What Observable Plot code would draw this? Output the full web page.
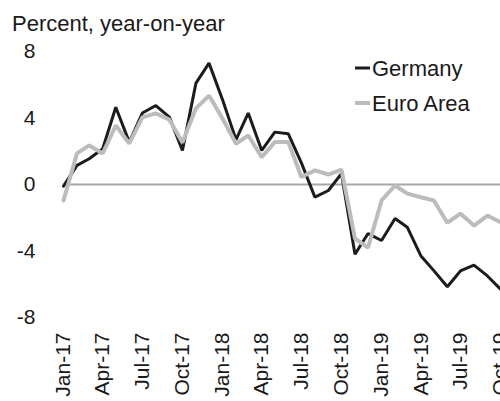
<!DOCTYPE html>
<html>
<head>
<meta charset="utf-8">
<script src="https://cdn.jsdelivr.net/npm/d3@7"></script>
<script src="https://cdn.jsdelivr.net/npm/@observablehq/plot@0.6"></script>
<style>
  html, body { margin: 0; padding: 0; background: #fff; }
  svg { display: block; }
</style>
</head>
<body>
<div id="chart"></div>
<script>
const months = [
  "Jan-17","Feb-17","Mar-17","Apr-17","May-17","Jun-17","Jul-17","Aug-17","Sep-17","Oct-17","Nov-17","Dec-17",
  "Jan-18","Feb-18","Mar-18","Apr-18","May-18","Jun-18","Jul-18","Aug-18","Sep-18","Oct-18","Nov-18","Dec-18",
  "Jan-19","Feb-19","Mar-19","Apr-19","May-19","Jun-19","Jul-19","Aug-19","Sep-19","Oct-19"
];
const germany = [
  -0.1, 1.15, 1.55, 2.15, 4.65, 2.55, 4.3, 4.75, 4.05, 2.05, 6.1, 7.3,
  5.1, 2.7, 4.3, 2.05, 3.15, 3.05, 1.3, -0.76, -0.36, 0.65, -4.2, -2.95,
  -3.37, -2.05, -2.57, -4.28, -5.18, -6.15, -5.2, -4.85, -5.5, -6.3
];
const euroArea = [
  -0.96, 1.87, 2.35, 1.87, 3.55, 2.47, 4.04, 4.28, 3.9, 2.53, 4.58, 5.35,
  3.97, 2.45, 2.95, 1.65, 2.55, 2.55, 0.45, 0.85, 0.6, 0.9, -3.25, -3.8,
  -0.96, -0.06, -0.55, -0.77, -0.96, -2.3, -1.75, -2.47, -1.87, -2.27
];
const xTickLabels = ["Jan-17","Apr-17","Jul-17","Oct-17","Jan-18","Apr-18","Jul-18","Oct-18","Jan-19","Apr-19","Jul-19","Oct-19"];
const yTicks = [-8, -4, 0, 4, 8];
const seriesNames = ["Germany", "Euro Area"];
const seriesColors = ["#1c1c1c", "#bcbcbc"];
const titleText = "Percent, year-on-year";

const parse = d3.utcParse("%b-%y");
const fmt = d3.utcFormat("%b-%y");
const dates = months.map(parse);
const gData = dates.map((d, i) => ({date: d, value: germany[i]}));
const eData = dates.map((d, i) => ({date: d, value: euroArea[i]}));

const font = "'Liberation Sans', Arial, Helvetica, sans-serif";

const plot = Plot.plot({
  width: 500,
  height: 401,
  marginTop: 51,
  marginBottom: 84,
  marginLeft: 63,
  marginRight: 0,
  style: {fontFamily: font, fontSize: "21px", color: "#1a1a1a", background: "#fff", overflow: "hidden"},
  x: {type: "utc", domain: [dates[0], dates[dates.length - 1]]},
  y: {domain: [-8, 8]},
  marks: [
    Plot.ruleY([0], {stroke: "#a8a8a8", strokeWidth: 2}),
    Plot.line(gData, {x: "date", y: "value", stroke: seriesColors[0], strokeWidth: 3, strokeLinejoin: "miter"}),
    Plot.line(eData, {x: "date", y: "value", stroke: seriesColors[1], strokeWidth: 4, strokeLinejoin: "miter"}),
    Plot.axisY({ticks: yTicks, tickSize: 0, tickPadding: 28, label: null, fontSize: 21,
      tickFormat: d => (d < 0 ? "-" : "") + Math.abs(d)}),
    Plot.axisX({ticks: xTickLabels.map(parse), tickFormat: fmt, tickRotate: -90, tickSize: 0, tickPadding: 15, label: null, fontSize: 21})
  ]
});

const svg = d3.select(plot);
svg.append("text")
  .attr("x", 12).attr("y", 31)
  .attr("text-anchor", "start")
  .attr("font-size", 22).attr("font-family", font).attr("fill", "#1a1a1a")
  .text(titleText);

const legend = svg.append("g").attr("text-anchor", "start");
seriesNames.forEach((name, i) => {
  const cy = 68 + i * 35;
  legend.append("line")
    .attr("x1", 355).attr("x2", 370).attr("y1", cy).attr("y2", cy)
    .attr("stroke", seriesColors[i]).attr("stroke-width", i === 0 ? 3 : 4);
  legend.append("text")
    .attr("x", 372).attr("y", cy + 8)
    .attr("text-anchor", "start")
    .attr("font-size", 22).attr("font-family", font).attr("fill", "#1a1a1a")
    .text(name);
});

document.getElementById("chart").appendChild(plot);
</script>
</body>
</html>
